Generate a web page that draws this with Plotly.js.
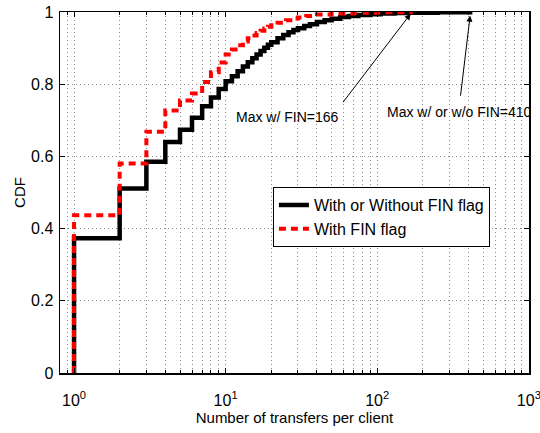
<!DOCTYPE html>
<html>
<head>
<meta charset="utf-8">
<script src="https://cdn.plot.ly/plotly-3.0.1.min.js"></script>
<style>html,body{margin:0;padding:0;background:#fff;}#chart{width:540px;height:433px;}</style>
</head>
<body>
<div id="chart"></div>
<script>
// Number of transfers per client (x) and CDF (y)
var allX = [1, 1, 2, 3, 4, 5, 6, 7, 8, 9, 10, 11, 12, 13, 14, 15, 16, 17, 18, 19, 20, 22, 24, 26, 28, 30, 33, 36, 40, 45, 50, 57, 65, 75, 90, 105, 130, 160, 250, 410];
var allY = [0, 0.373, 0.511, 0.585, 0.640, 0.674, 0.707, 0.739, 0.763, 0.787, 0.808, 0.822, 0.836, 0.849, 0.861, 0.872, 0.882, 0.892, 0.901, 0.909, 0.916, 0.927, 0.936, 0.944, 0.950, 0.955, 0.961, 0.966, 0.972, 0.977, 0.981, 0.986, 0.989, 0.992, 0.994, 0.996, 0.997, 0.998, 0.999, 1.0];
var finX = [1, 1, 2, 3, 4, 5, 6, 7, 8, 9, 10, 11, 12, 13, 14, 15, 16, 17, 18, 19, 20, 22, 25, 28, 30, 34, 40, 50, 70, 100, 166];
var finY = [0, 0.437, 0.580, 0.668, 0.727, 0.755, 0.774, 0.806, 0.833, 0.860, 0.882, 0.896, 0.908, 0.918, 0.927, 0.935, 0.942, 0.948, 0.954, 0.959, 0.963, 0.970, 0.977, 0.982, 0.985, 0.989, 0.993, 0.996, 0.998, 0.999, 1.0];
var seriesNames = ['With or Without FIN flag', 'With FIN flag'];
var xTickVals = [1, 10, 100, 1000];
var xTickText = ['10<sup>0</sup>', '10<sup>1</sup>', '10<sup>2</sup>', '10<sup>3</sup>'];
var xMinorVals = [0.9, 2, 3, 4, 5, 6, 7, 8, 9, 20, 30, 40, 50, 60, 70, 80, 90, 200, 300, 400, 500, 600, 700, 800, 900];
var yTickVals = [0, 0.2, 0.4, 0.6, 0.8, 1];
var yTickText = ['0', '0.2', '0.4', '0.6', '0.8', '1'];
var annoTexts = ['Max w/ FIN=166', 'Max w/ or w/o FIN=410'];
var maxFin = 166, maxAll = 410;

var FONT = 'Liberation Sans Narrow, Liberation Sans, Arial, sans-serif';
var L = Math.log10;
var GRID = '#8c8c8c', GDASH = '1px,3px';

var traces = [
  {x: allX, y: allY, mode: 'lines', line: {shape: 'hv', color: '#000', width: 4.5}, name: seriesNames[0]},
  {x: finX, y: finY, mode: 'lines', line: {shape: 'hv', color: '#ff0000', width: 4, dash: '7px,5px'}, name: seriesNames[1]}
];

var layout = {
  width: 540, height: 433,
  margin: {l: 60, r: 11, t: 12, b: 60},
  paper_bgcolor: '#fff', plot_bgcolor: '#fff',
  font: {family: FONT, color: '#000', size: 15},
  showlegend: true,
  legend: {x: 0.454, y: 0.515, xanchor: 'left', yanchor: 'top', bgcolor: '#fff', bordercolor: '#000', borderwidth: 1, font: {family: FONT, size: 16}},
  xaxis: {
    type: 'log', range: [L(0.808), 3.001],
    tickmode: 'array', tickvals: xTickVals, ticktext: xTickText,
    ticks: 'inside', ticklen: 5, tickcolor: '#000', ticklabelstandoff: 12, ticklabeloverflow: 'allow',
    showgrid: true, gridcolor: GRID, griddash: GDASH, gridwidth: 1,
    minor: {tickmode: 'array', tickvals: xMinorVals, ticks: 'inside', ticklen: 3, tickcolor: '#000', showgrid: true, gridcolor: GRID, griddash: GDASH, gridwidth: 1},
    showline: true, linecolor: '#000', linewidth: 1.5, mirror: 'ticks',
    zeroline: false, tickfont: {family: FONT, size: 16},
    title: {text: 'Number of transfers per client', font: {family: FONT, size: 15}, standoff: 4}
  },
  yaxis: {
    range: [0, 1], tickmode: 'array', tickvals: yTickVals, ticktext: yTickText,
    ticks: 'inside', ticklen: 5, tickcolor: '#000', ticklabelstandoff: 2,
    showgrid: true, gridcolor: GRID, griddash: GDASH, gridwidth: 1,
    showline: true, linecolor: '#000', linewidth: 1.5, mirror: 'ticks',
    zeroline: false, tickfont: {family: FONT, size: 16},
    title: {text: 'CDF', font: {family: FONT, size: 15}, standoff: 2}
  },
  annotations: [
    {x: L(maxFin), y: 0.995, ax: 1.767, ay: 0.746, axref: 'x', ayref: 'y', xref: 'x', yref: 'y', text: '', showarrow: true, arrowhead: 2, arrowsize: 1.2, arrowwidth: 1, arrowcolor: '#000'},
    {x: L(maxAll), y: 0.990, ax: 2.548, ay: 0.764, axref: 'x', ayref: 'y', xref: 'x', yref: 'y', text: '', showarrow: true, arrowhead: 2, arrowsize: 1.2, arrowwidth: 1, arrowcolor: '#000'},
    {x: 1.409, y: 0.709, xref: 'x', yref: 'y', text: annoTexts[0], showarrow: false, font: {family: FONT, size: 14, color: '#000'}},
    {x: 2.541, y: 0.723, xref: 'x', yref: 'y', text: annoTexts[1], showarrow: false, font: {family: FONT, size: 14, color: '#000'}}
  ]
};

Plotly.newPlot('chart', traces, layout, {staticPlot: true, displayModeBar: false});
</script>
</body>
</html>
